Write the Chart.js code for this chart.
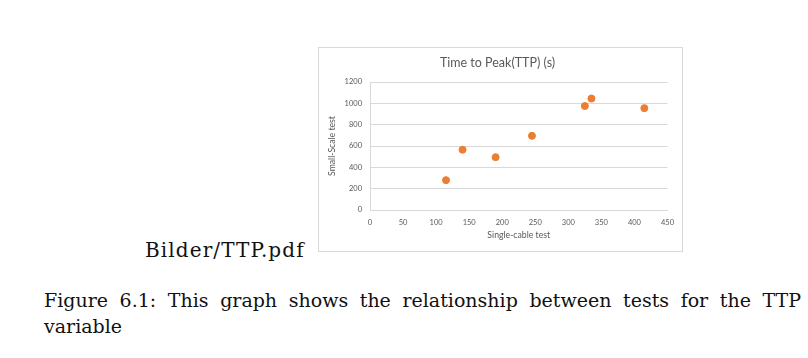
<!DOCTYPE html>
<html>
<head>
<meta charset="utf-8">
<script src="https://cdn.jsdelivr.net/npm/chart.js@4"></script>
<style>
  body { margin: 0; background: #fff; width: 808px; height: 358px; position: relative; overflow: hidden; }
  #box { position: absolute; left: 318px; top: 47px; width: 363px; height: 203px; border: 1px solid #d9d9d9; }
  #chart { display: block; }
  .tex { position: absolute; font-family: 'DejaVu Serif', 'Liberation Serif', serif; color: #111; font-size: 19px; white-space: nowrap; }
  #file { left: 145px; top: 238px; font-size: 20px; letter-spacing: 1.1px; }
  #cap1 { left: 44px; top: 289px; width: 757px; text-align: justify; text-align-last: justify; }
  #cap2 { left: 44px; top: 315px; }
</style>
</head>
<body>
<div id="box"><canvas id="chart" width="363" height="203"></canvas></div>
<div class="tex" id="file">Bilder/TTP.pdf</div>
<div class="tex" id="cap1">Figure 6.1: This graph shows the relationship between tests for the TTP</div>
<div class="tex" id="cap2">variable</div>
<script>
var ctx = document.getElementById('chart').getContext('2d');

// single-cable test (x) vs small-scale test (y), seconds
var singleCable = [115, 140, 190, 245, 325, 335, 415];
var smallScale = [280, 565, 495, 695, 975, 1045, 955];

var points = singleCable.map(function(x, i) { return {x: x, y: smallScale[i]}; });

var grey = '#595959';
var font = "Lato, 'Open Sans', sans-serif";

var myChart = new Chart(ctx, {
  type: 'scatter',
  data: {
    datasets: [{
      label: 'TTP',
      data: points,
      backgroundColor: '#ed7d31',
      borderColor: '#ed7d31',
      pointRadius: 3.5,
      pointHoverRadius: 3.5
    }]
  },
  options: {
    responsive: false,
    animation: false,
    layout: { padding: { left: 8, right: 14, top: 0, bottom: 9 } },
    plugins: {
      legend: { display: false },
      tooltip: { enabled: false },
      title: {
        display: true,
        text: 'Time to Peak(TTP) (s)',
        color: grey,
        padding: { top: 7, bottom: 12 },
        font: { family: font, size: 12.5, weight: 'normal', lineHeight: 1.2 }
      }
    },
    scales: {
      x: {
        min: 0, max: 450,
        afterFit: function(s) { s.height = 32; },
        ticks: { stepSize: 50, color: grey, padding: 8, font: { family: font, size: 7.5 },
          callback: function(v) { return String(v); } },
        grid: { display: false, drawTicks: false },
        border: { display: true, color: '#d9d9d9' },
        title: { display: true, text: 'Single-cable test', color: grey, padding: { top: 0, bottom: 2 }, font: { family: font, size: 8.7 } }
      },
      y: {
        min: 0, max: 1200,
        afterFit: function(s) { s.width = 43; },
        ticks: { stepSize: 200, color: grey, padding: 8, font: { family: font, size: 7.5 },
          callback: function(v) { return String(v); } },
        grid: { color: '#d9d9d9', drawTicks: false },
        border: { display: true, color: '#d9d9d9' },
        title: { display: true, text: 'Small-Scale test', color: grey, padding: 0, font: { family: font, size: 8.7 } }
      }
    }
  }
});
</script>
</body>
</html>
